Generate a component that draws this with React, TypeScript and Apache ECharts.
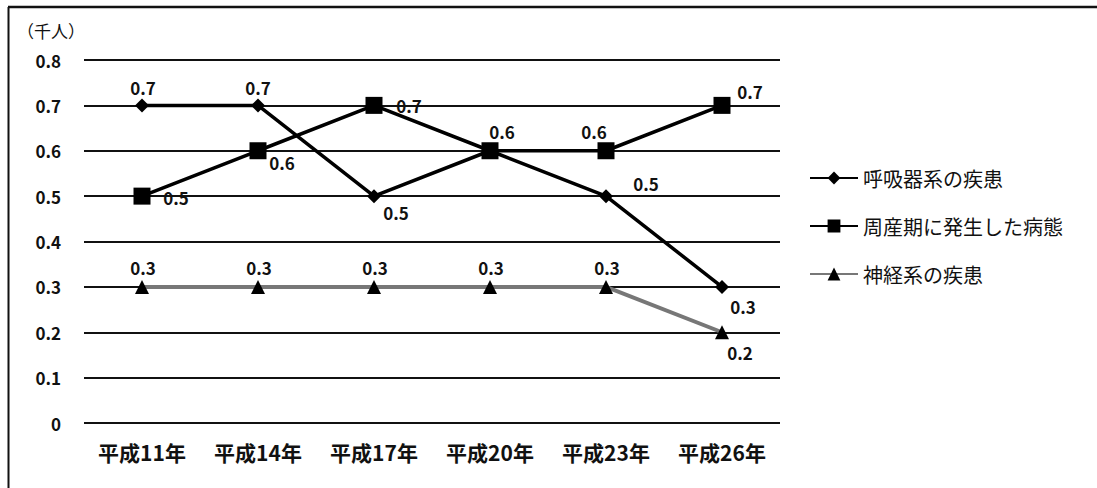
import React, { useEffect, useRef } from "react";
import * as echarts from "echarts";

const categories = ["平成11年", "平成14年", "平成17年", "平成20年", "平成23年", "平成26年"];
const respiratory = [0.7, 0.7, 0.5, 0.6, 0.5, 0.3];
const perinatal = [0.5, 0.6, 0.7, 0.6, 0.6, 0.7];
const nervous = [0.3, 0.3, 0.3, 0.3, 0.3, 0.2];
const seriesNames = ["呼吸器系の疾患", "周産期に発生した病態", "神経系の疾患"];
const yTicks = [0, 0.1, 0.2, 0.3, 0.4, 0.5, 0.6, 0.7, 0.8];
const unitLabel = "（千人）";

const FONT = "'Noto Sans CJK JP', sans-serif";

// label offsets from marker centre (null = hidden, overlapping label)
const respOffsets: ([number, number] | null)[] = [[1, -18], [0, -18], [22, 16], null, [40, -13], [21, 20]];
const periOffsets: ([number, number] | null)[] = [[34, 1], [24, 12], [35, 0], [12, -19], [-12, -19], [28, -14]];
const nervOffsets: ([number, number] | null)[] = [[1, -19], [1, -19], [1, -19], [1, -19], [1, -19], [18, 20]];

function build(values: number[], offs: ([number, number] | null)[]) {
  return values.map((v, i) => ({
    value: v,
    label: {
      show: offs[i] !== null,
      position: "inside",
      offset: offs[i] || [0, 0],
      align: "center",
      verticalAlign: "middle",
      color: "#111",
      fontSize: 17,
      fontWeight: "bold",
      fontFamily: FONT,
      formatter: (p: any) => Number(p.value).toFixed(1),
    },
  }));
}

export default function App() {
  const ref = useRef<HTMLDivElement>(null);
  useEffect(() => {
    if (!ref.current) return;
    const chart = echarts.init(ref.current, undefined, { renderer: "svg" });
    chart.setOption({
      animation: false,
      backgroundColor: "#fff",
      graphic: [
        {
          type: "line",
          shape: { x1: 8, y1: 7, x2: 1097, y2: 7 },
          style: { stroke: "#111", lineWidth: 2.5 },
        },
        {
          type: "line",
          shape: { x1: 8.5, y1: 7, x2: 8.5, y2: 488 },
          style: { stroke: "#111", lineWidth: 2 },
        },
        {
          type: "text",
          x: 17,
          y: 22,
          style: {
            text: unitLabel,
            font: "17px 'Noto Sans CJK JP', sans-serif",
            fill: "#111",
          },
        },
      ],
      legend: {
        orient: "vertical",
        left: 804,
        top: 163,
        itemGap: 28,
        itemWidth: 48,
        itemHeight: 16,
        textStyle: { fontSize: 20, color: "#111", fontFamily: FONT },
        data: seriesNames,
      },
      grid: { left: 84, right: 317, top: 60, bottom: 65, containLabel: false },
      xAxis: {
        type: "category",
        data: categories,
        boundaryGap: true,
        axisLine: { show: false },
        axisTick: { show: false },
        axisLabel: {
          color: "#111",
          fontSize: 21,
          fontWeight: "bold",
          fontFamily: FONT,
          margin: 18,
        },
      },
      yAxis: {
        type: "value",
        min: yTicks[0],
        max: yTicks[yTicks.length - 1],
        interval: 0.1,
        axisLine: { show: false },
        axisTick: { show: false },
        splitLine: { lineStyle: { color: "#111", width: 1.8 } },
        axisLabel: {
          color: "#111",
          fontSize: 17,
          fontWeight: "bold",
          fontFamily: FONT,
          margin: 23,
          formatter: (v: number) => (v === 0 ? "0" : v.toFixed(1)),
        },
      },
      series: [
        {
          name: seriesNames[0],
          type: "line",
          data: build(respiratory, respOffsets),
          symbol: "diamond",
          symbolSize: 14,
          lineStyle: { color: "#000", width: 3.5 },
          itemStyle: { color: "#000" },
          z: 3,
        },
        {
          name: seriesNames[1],
          type: "line",
          data: build(perinatal, periOffsets),
          symbol: "rect",
          symbolSize: 17,
          lineStyle: { color: "#000", width: 3.5 },
          itemStyle: { color: "#000" },
          z: 4,
        },
        {
          name: seriesNames[2],
          type: "line",
          data: build(nervous, nervOffsets),
          symbol: "triangle",
          symbolSize: 14,
          lineStyle: { color: "#777", width: 4 },
          itemStyle: { color: "#000" },
          z: 2,
        },
      ],
    });
    return () => chart.dispose();
  }, []);
  return (
    <div
      ref={ref}
      style={{ position: "absolute", left: 0, top: 0, width: 1097, height: 488 }}
    />
  );
}
